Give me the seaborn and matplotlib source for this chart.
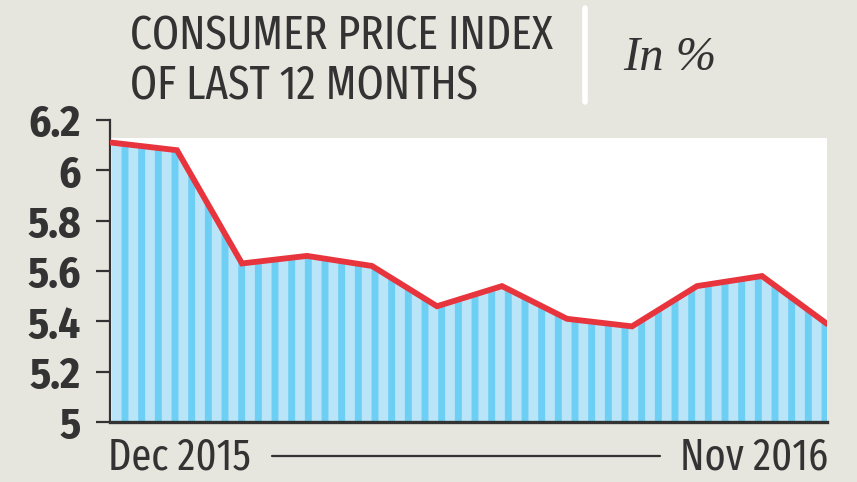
import matplotlib
matplotlib.use("Agg")
import matplotlib.pyplot as plt
import seaborn as sns
import pandas as pd
import numpy as np
from matplotlib.patches import Rectangle
from matplotlib.lines import Line2D

months = ["Dec 2015", "Jan 2016", "Feb 2016", "Mar 2016", "Apr 2016", "May 2016",
          "Jun 2016", "Jul 2016", "Aug 2016", "Sep 2016", "Oct 2016", "Nov 2016"]
cpi = [6.11, 6.08, 5.63, 5.66, 5.62, 5.46, 5.54, 5.41, 5.38, 5.54, 5.58, 5.39]
yticks = [5, 5.2, 5.4, 5.6, 5.8, 6, 6.2]
ytick_labels = ["5", "5.2", "5.4", "5.6", "5.8", "6", "6.2"]
title_lines = ["CONSUMER PRICE INDEX", "OF LAST 12 MONTHS"]
unit_label = "In %"
start_label = "Dec 2015"
end_label = "Nov 2016"

sns.set_theme(style="white")
COND = ["Fira Sans Condensed", "DejaVu Sans"]
XCOND = ["Fira Sans Extra Condensed", "Fira Sans Condensed", "DejaVu Sans"]
plt.rcParams["font.family"] = COND
plt.rcParams["hatch.linewidth"] = 5.0

BG = "#e6e5de"
LIGHT = "#bae5f9"
DARK = "#6ecff5"
RED = "#e8343c"
INK = "#333333"

df = pd.DataFrame({"idx": np.arange(len(cpi)), "cpi": cpi})

fig = plt.figure(figsize=(8.57, 4.82), dpi=100, facecolor=BG)
ax = fig.add_axes([110/857, 60/482, 717/857, 302/482])
ax.set_facecolor("none")
ax.set_xlim(-0.03, len(cpi) - 1)
ax.set_ylim(5, 6.2)

# white plot panel
ax.add_patch(Rectangle((0, 0), 1, (6.13 - 5) / 1.2, transform=ax.transAxes,
                       facecolor="white", edgecolor="none", zorder=0))

# striped area
ax.fill_between(df["idx"], 5, df["cpi"], facecolor=LIGHT, edgecolor=DARK,
                hatch="|", linewidth=0, zorder=1)

sns.lineplot(data=df, x="idx", y="cpi", color=RED, linewidth=4.2, ax=ax, zorder=3,
             solid_joinstyle="miter")

for s in ["top", "right"]:
    ax.spines[s].set_visible(False)
ax.spines["left"].set_color(INK)
ax.spines["left"].set_linewidth(1.6)
ax.spines["bottom"].set_color(INK)
ax.spines["bottom"].set_linewidth(2.4)
ax.spines["bottom"].set_zorder(4)

ax.set_xticks([])
ax.set_yticks(yticks)
ax.set_yticklabels(ytick_labels, fontsize=31, fontweight="bold", color=INK,
                   family=COND)
ax.tick_params(axis="y", length=10, width=1.6, color=INK, pad=11, left=True)
ax.set_xlabel("")
ax.set_ylabel("")

# title
fig.text(130/857, 1 - 50/482, title_lines[0], fontsize=34, color=INK,
         ha="left", va="baseline", family=XCOND)
fig.text(130/857, 1 - 100/482, title_lines[1], fontsize=34, color=INK,
         ha="left", va="baseline", family=XCOND)

# separator bar
fig.add_artist(Line2D([585/857, 585/857], [1 - 8/482, 1 - 102/482],
                      color="white", linewidth=4, transform=fig.transFigure))
fig.text(623/857, 1 - 70/482, unit_label, fontsize=35, color=INK, style="italic",
         family=["Liberation Serif", "DejaVu Serif"], ha="left", va="baseline")

# bottom labels
fig.text(108/857, 1 - 470/482, start_label, fontsize=31.5, color=INK,
         ha="left", va="baseline", family=XCOND)
fig.text(828/857, 1 - 470/482, end_label, fontsize=31.5, color=INK,
         ha="right", va="baseline", family=XCOND)
fig.add_artist(Line2D([272/857, 660/857], [1 - 456/482, 1 - 456/482],
                      color=INK, linewidth=1.6, transform=fig.transFigure))

fig.savefig("out.png", dpi=100, facecolor=BG)
